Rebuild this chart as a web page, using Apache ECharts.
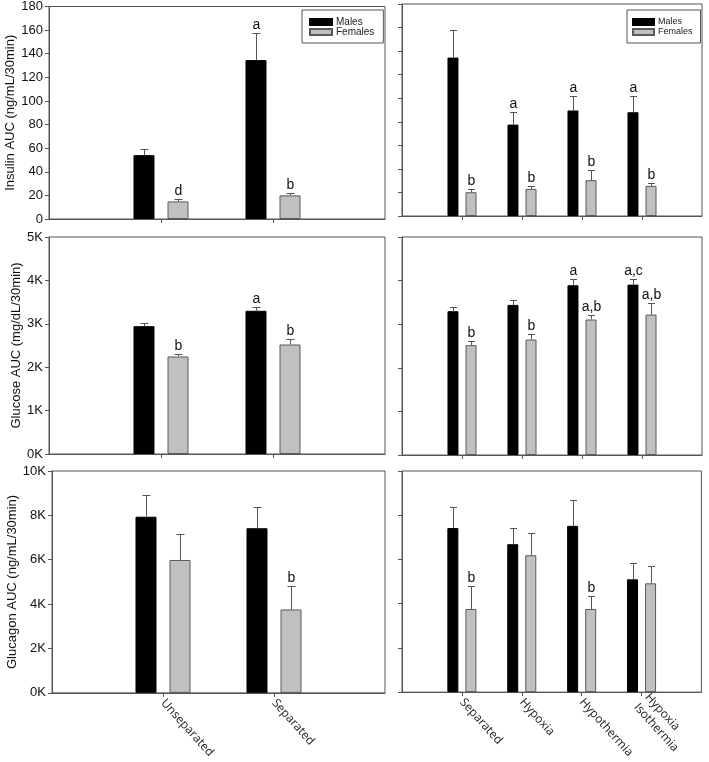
<!DOCTYPE html>
<html><head><meta charset="utf-8">
<script src="https://cdn.jsdelivr.net/npm/echarts@6/dist/echarts.min.js"></script>
<style>html,body{margin:0;padding:0;background:#fff}#c{width:709px;height:762px}</style>
</head><body><div id="c"></div>
<script>
// ---------- DATA ----------
const leftCategories = ['Unseparated', 'Separated'];
const rightCategories = ['Separated', 'Hypoxia', 'Hypothermia', 'Hypoxia\nIsothermia'];

const insulinTickLabels = ['0','20','40','60','80','100','120','140','160','180'];
const glucoseTickLabels = ['0K','1K','2K','3K','4K','5K'];
const glucagonTickLabels = ['0K','2K','4K','6K','8K','10K'];

// Insulin AUC (ng/mL/30min)
const insulinLeftMales = [54.1, 134.6];
const insulinLeftMalesErr = [59.7, 157.7];
const insulinLeftMalesLetters = ['', 'a'];
const insulinLeftFemales = [14.9, 20.0];
const insulinLeftFemalesErr = [16.6, 22.3];
const insulinLeftFemalesLetters = ['d', 'b'];
const insulinRightMales = [134.5, 77.6, 89.6, 88.1];
const insulinRightMalesErr = [157.8, 88.7, 102.0, 102.0];
const insulinRightMalesLetters = ['', 'a', 'a', 'a'];
const insulinRightFemales = [20.2, 23.0, 30.4, 25.6];
const insulinRightFemalesErr = [22.7, 25.6, 38.7, 27.9];
const insulinRightFemalesLetters = ['b', 'b', 'b', 'b'];

// Glucose AUC (mg/dL/30min)
const glucoseLeftMales = [2945, 3300];
const glucoseLeftMalesErr = [3020, 3390];
const glucoseLeftMalesLetters = ['', 'a'];
const glucoseLeftFemales = [2247, 2523];
const glucoseLeftFemalesErr = [2308, 2660];
const glucoseLeftFemalesLetters = ['b', 'b'];
const glucoseRightMales = [3298, 3443, 3893, 3908];
const glucoseRightMalesErr = [3390, 3557, 4046, 4046];
const glucoseRightMalesLetters = ['', '', 'a', 'a,c'];
const glucoseRightFemales = [2519, 2649, 3107, 3221];
const glucoseRightFemalesErr = [2618, 2779, 3206, 3489];
const glucoseRightFemalesLetters = ['b', 'b', 'a,b', 'a,b'];

// Glucagon AUC (ng/mL/30min)
const glucagonLeftMales = [7940, 7420];
const glucagonLeftMalesErr = [8920, 8390];
const glucagonLeftMalesLetters = ['', ''];
const glucagonLeftFemales = [5990, 3760];
const glucagonLeftFemalesErr = [7140, 4820];
const glucagonLeftFemalesLetters = ['', 'b'];
const glucagonRightMales = [7420, 6690, 7520, 5100];
const glucagonRightMalesErr = [8390, 7420, 8680, 5860];
const glucagonRightMalesLetters = ['', '', '', ''];
const glucagonRightFemales = [3760, 6190, 3760, 4920];
const glucagonRightFemalesErr = [4820, 7200, 4340, 5720];
const glucagonRightFemalesLetters = ['b', '', 'b', ''];

// ---------- LAYOUT ----------
const AX = '#555';
const FONT = '"Liberation Sans", Arial, sans-serif';
const panels = [
  {grid:{left:49, top:6, width:336, height:213}, cats:leftCategories, left:true, bottom:false,
   y:{min:0,max:180,interval:20,labels:insulinTickLabels,name:'Insulin AUC (ng/mL/30min)'},
   m:[insulinLeftMales,insulinLeftMalesErr,insulinLeftMalesLetters],
   f:[insulinLeftFemales,insulinLeftFemalesErr,insulinLeftFemalesLetters]},
  {grid:{left:402, top:4, width:300, height:212}, cats:rightCategories, left:false, bottom:false,
   y:{min:0,max:180,interval:20,labels:insulinTickLabels},
   m:[insulinRightMales,insulinRightMalesErr,insulinRightMalesLetters],
   f:[insulinRightFemales,insulinRightFemalesErr,insulinRightFemalesLetters]},
  {grid:{left:49, top:237, width:336, height:217}, cats:leftCategories, left:true, bottom:false,
   y:{min:0,max:5000,interval:1000,labels:glucoseTickLabels,name:'Glucose AUC (mg/dL/30min)'},
   m:[glucoseLeftMales,glucoseLeftMalesErr,glucoseLeftMalesLetters],
   f:[glucoseLeftFemales,glucoseLeftFemalesErr,glucoseLeftFemalesLetters]},
  {grid:{left:402, top:237, width:300, height:218}, cats:rightCategories, left:false, bottom:false,
   y:{min:0,max:5000,interval:1000,labels:glucoseTickLabels},
   m:[glucoseRightMales,glucoseRightMalesErr,glucoseRightMalesLetters],
   f:[glucoseRightFemales,glucoseRightFemalesErr,glucoseRightFemalesLetters]},
  {grid:{left:52, top:471, width:333, height:223}, cats:leftCategories, left:true, bottom:true,
   y:{min:0,max:10000,interval:2000,labels:glucagonTickLabels,name:'Glucagon AUC (ng/mL/30min)'},
   m:[glucagonLeftMales,glucagonLeftMalesErr,glucagonLeftMalesLetters],
   f:[glucagonLeftFemales,glucagonLeftFemalesErr,glucagonLeftFemalesLetters]},
  {grid:{left:402, top:471, width:300, height:223}, cats:rightCategories, left:false, bottom:true,
   y:{min:0,max:10000,interval:2000,labels:glucagonTickLabels},
   m:[glucagonRightMales,glucagonRightMalesErr,glucagonRightMalesLetters],
   f:[glucagonRightFemales,glucagonRightFemalesErr,glucagonRightFemalesLetters]}
];

function errRenderer(vals, errs, letters, offset, capHalf) {
  return function (params, api) {
    const i = params.dataIndex;
    const base = api.coord([i + 1, vals[i]]);
    const top = api.coord([i + 1, errs[i]]);
    const x = Math.round(base[0] + offset) + 0.5;
    const ty = Math.round(top[1]) + 0.5;
    const children = [
      {type:'line', shape:{x1:x, y1:base[1], x2:x, y2:ty}, style:{stroke:AX, lineWidth:1}},
      {type:'line', shape:{x1:x - capHalf, y1:ty, x2:x + capHalf, y2:ty}, style:{stroke:AX, lineWidth:1}}
    ];
    if (letters[i]) {
      children.push({type:'text', x:x, y:ty - 1,
        style:{text:letters[i], align:'center', verticalAlign:'bottom',
               font:'14px ' + FONT, fill:'#111'}});
    }
    return {type:'group', children};
  };
}

const grids = [], xAxes = [], yAxes = [], series = [];
panels.forEach((p, k) => {
  const n = p.cats.length;
  grids.push(Object.assign({show:true, borderColor:AX, borderWidth:1, backgroundColor:'transparent'}, p.grid));
  xAxes.push({
    gridIndex:k, type:'category', data:[''].concat(p.cats).concat(['\u200b']), boundaryGap:false,
    axisLine:{show:true, lineStyle:{color:AX, width:1}},
    axisTick:{show:true, length:4, interval:(idx) => idx > 0 && idx <= n, lineStyle:{color:AX}},
    axisLabel:{show:p.bottom, interval:0, rotate:-48, margin:8, fontFamily:'"Open Sans", sans-serif',
               fontSize:12, color:'#222', lineHeight:15},
    splitLine:{show:false}
  });
  yAxes.push({
    gridIndex:k, type:'value', min:p.y.min, max:p.y.max, interval:p.y.interval,
    axisLine:{show:true, lineStyle:{color:AX, width:1}},
    axisTick:{show:true, length:4, lineStyle:{color:AX}},
    splitLine:{show:false},
    axisLabel:{show:p.left, margin:6, fontFamily:FONT, fontSize:13, color:'#111',
               formatter:(v) => p.y.labels[Math.round((v - p.y.min) / p.y.interval)]},
    name:p.y.name || '', nameLocation:'middle', nameRotate:90, nameGap:(p.grid.left - 23),
    nameTextStyle:{fontFamily:FONT, fontSize:13, color:'#111'}
  });
  const bw = p.left ? 21 : 11;
  const gap = p.left ? '62%' : '64%';
  const off = p.left ? 17 : 9;
  const cap = p.left ? 4 : 3.5;
  const pad = (arr) => [null].concat(arr).concat([null]);
  series.push({
    type:'bar', name:'Males', xAxisIndex:k, yAxisIndex:k, data:pad(p.m[0]), barWidth:bw, barGap:gap,
    itemStyle:{color:'#000', borderColor:'#000', borderWidth:1}, z:2
  });
  series.push({
    type:'bar', name:'Females', xAxisIndex:k, yAxisIndex:k, data:pad(p.f[0]), barWidth:bw, barGap:gap,
    itemStyle:{color:'#c0c0c0', borderColor:'#5a5a5a', borderWidth:1}, z:2
  });
  series.push({
    type:'custom', xAxisIndex:k, yAxisIndex:k, z:3, silent:true,
    data:p.m[0].map((v, i) => [i + 1, p.m[1][i]]),
    renderItem:errRenderer(p.m[0], p.m[1], p.m[2], -off, cap)
  });
  series.push({
    type:'custom', xAxisIndex:k, yAxisIndex:k, z:3, silent:true,
    data:p.f[0].map((v, i) => [i + 1, p.f[1][i]]),
    renderItem:errRenderer(p.f[0], p.f[1], p.f[2], off, cap)
  });
});

const legendBase = {
  orient:'vertical', top:10, data:['Males', 'Females'], icon:'rect',
  itemHeight:6, itemGap:0,
  borderColor:AX, borderWidth:1, backgroundColor:'#fff', selectedMode:false
};
const legends = [
  Object.assign({}, legendBase, {left:302, itemWidth:22, padding:[7, 9, 6, 7],
    textStyle:{fontFamily:FONT, fontSize:10, color:'#222', lineHeight:10, padding:[0,0,0,-1]}}),
  Object.assign({}, legendBase, {left:627, itemWidth:21, padding:[7, 8, 6, 5],
    textStyle:{fontFamily:FONT, fontSize:9, color:'#222', lineHeight:10, padding:[0,0,0,-1]}})
];

const chart = echarts.init(document.getElementById('c'), null, {renderer:'canvas'});
chart.setOption({
  animation:false, backgroundColor:'#fff',
  legend:legends, grid:grids, xAxis:xAxes, yAxis:yAxes, series:series
});
</script></body></html>
